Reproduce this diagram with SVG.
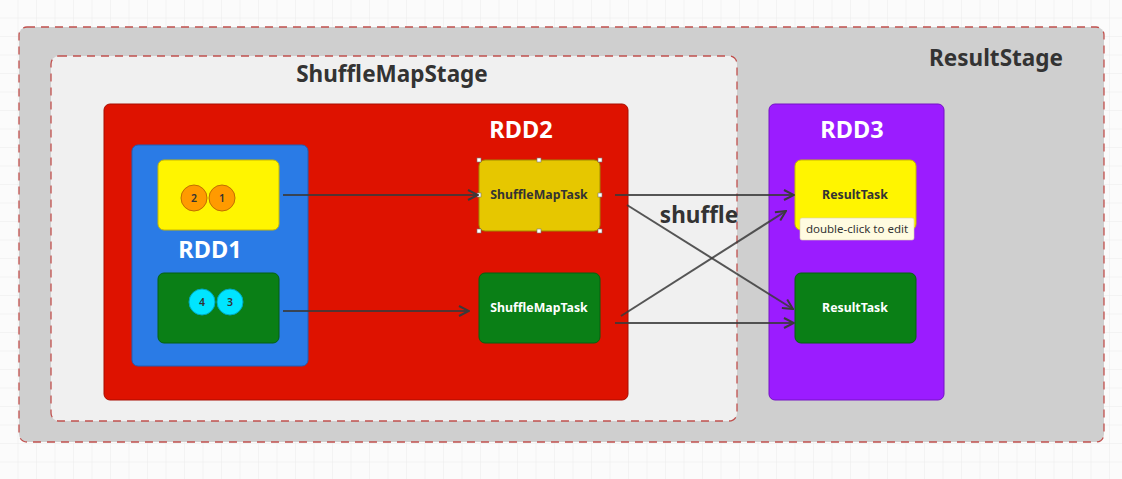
<svg xmlns="http://www.w3.org/2000/svg" width="1122" height="479" viewBox="0 0 1122 479">
<defs>
<pattern id="grid" width="18.5" height="18.5" patternUnits="userSpaceOnUse">
<path d="M18.5 0V18.5H0" fill="none" stroke="#ececec" stroke-width="1"/>
</pattern>
<marker id="arr" viewBox="0 0 12 12" refX="11" refY="6" markerWidth="12" markerHeight="12" markerUnits="userSpaceOnUse" orient="auto">
<path d="M1 1L11 6L1 11" fill="none" stroke="#3a3a3a" stroke-width="2"/>
</marker>
<style>
text{font-family:"Noto Sans","Open Sans","DejaVu Sans",sans-serif;font-weight:bold;text-anchor:middle}
.stage{stroke:#c0504d;stroke-width:1.3;stroke-dasharray:8 6}
.title{font-size:22.5px;fill:#333}
.rddlbl{font-size:23.5px;fill:#fff}
.task{font-size:12.3px}
.num{font-size:10.5px;fill:#333;font-weight:600}
.conn{fill:none;stroke:#3a3a3a;stroke-width:2;stroke-opacity:0.85;marker-end:url(#arr)}
.handle{fill:#fff;stroke:#777;stroke-width:0.6}
</style>
</defs>
<rect width="1122" height="479" fill="#fbfbfb"/>
<rect width="1122" height="479" fill="url(#grid)"/>

<g id="ResultStage">
<rect class="stage" x="19" y="27" width="1085" height="415" rx="8" fill="#cfcfcf"/>
<text class="title" x="996" y="66">ResultStage</text>
</g>

<g id="ShuffleMapStage">
<rect class="stage" x="51" y="56" width="686" height="365" rx="8" fill="#f0f0f0"/>
<text class="title" x="392" y="82">ShuffleMapStage</text>
</g>

<g id="RDD2">
<rect x="104" y="104" width="524" height="296" rx="6" fill="#de1200" stroke="#a80d00" stroke-width="1"/>
<text class="rddlbl" x="521" y="138">RDD2</text>
</g>

<g id="RDD1">
<rect x="132" y="145" width="176" height="221" rx="6" fill="#2a7be6" stroke="#1e5fb8" stroke-width="1"/>
<text class="rddlbl" x="210" y="258">RDD1</text>
</g>

<g id="partition-12">
<rect x="158" y="160" width="121" height="70" rx="6" fill="#fff500" stroke="#c9b800" stroke-width="1"/>
<circle cx="194" cy="198" r="13" fill="#ff9a00" stroke="#c06f00" stroke-width="1"/>
<circle cx="222" cy="198" r="13" fill="#ff9a00" stroke="#c06f00" stroke-width="1"/>
<text class="num" x="194" y="202">2</text>
<text class="num" x="222" y="202">1</text>
</g>

<g id="partition-34">
<rect x="158" y="273" width="121" height="70" rx="6" fill="#0a7f16" stroke="#056010" stroke-width="1"/>
<circle cx="202" cy="302" r="13" fill="#00e5ff" stroke="#00a8c0" stroke-width="1"/>
<circle cx="230" cy="302" r="13" fill="#00e5ff" stroke="#00a8c0" stroke-width="1"/>
<text class="num" x="202" y="306">4</text>
<text class="num" x="230" y="306">3</text>
</g>

<g id="ShuffleMapTask1">
<rect x="479" y="160" width="121" height="71" rx="6" fill="#e6c700" stroke="#a08a00" stroke-width="1"/>
<text class="task" x="539" y="199" fill="#333">ShuffleMapTask</text>
<rect class="handle" x="477" y="158" width="4" height="4"/>
<rect class="handle" x="537" y="158" width="4" height="4"/>
<rect class="handle" x="598" y="158" width="4" height="4"/>
<rect class="handle" x="477" y="193" width="4" height="4"/>
<rect class="handle" x="598" y="193" width="4" height="4"/>
<rect class="handle" x="477" y="229" width="4" height="4"/>
<rect class="handle" x="537" y="229" width="4" height="4"/>
<rect class="handle" x="598" y="229" width="4" height="4"/>
</g>

<g id="ShuffleMapTask2">
<rect x="479" y="273" width="121" height="70" rx="6" fill="#0a7f16" stroke="#056010" stroke-width="1"/>
<text class="task" x="539" y="312" fill="#fff">ShuffleMapTask</text>
</g>

<g id="RDD3">
<rect x="769" y="104" width="175" height="296" rx="6" fill="#9b1cff" stroke="#7412c4" stroke-width="1"/>
<text class="rddlbl" x="852" y="138">RDD3</text>
</g>

<g id="ResultTask1">
<rect x="795" y="160" width="121" height="70" rx="6" fill="#fff500" stroke="#c9b800" stroke-width="1"/>
<text class="task" x="855" y="199" fill="#333">ResultTask</text>
</g>

<g id="ResultTask2">
<rect x="795" y="273" width="121" height="70" rx="6" fill="#0a7f16" stroke="#056010" stroke-width="1"/>
<text class="task" x="855" y="312" fill="#fff">ResultTask</text>
</g>

<g id="connectors">
<line class="conn" x1="283" y1="195" x2="478" y2="195"/>
<line class="conn" x1="283" y1="311" x2="469" y2="311"/>
<line class="conn" x1="615" y1="195" x2="794" y2="195"/>
<line class="conn" x1="615" y1="323" x2="794" y2="323"/>
<line class="conn" x1="627" y1="205" x2="793" y2="309"/>
<line class="conn" x1="621" y1="316" x2="786" y2="211"/>
<text class="title" x="699" y="223">shuffle</text>
</g>

<g id="tooltip">
<rect x="800" y="218" width="114" height="22" rx="2" fill="#fffbe0" stroke="#d8d2b0" stroke-width="0.6"/>
<text x="857" y="233" style="font-size:11.5px;font-weight:normal;fill:#333">double-click to edit</text>
</g>
</svg>
